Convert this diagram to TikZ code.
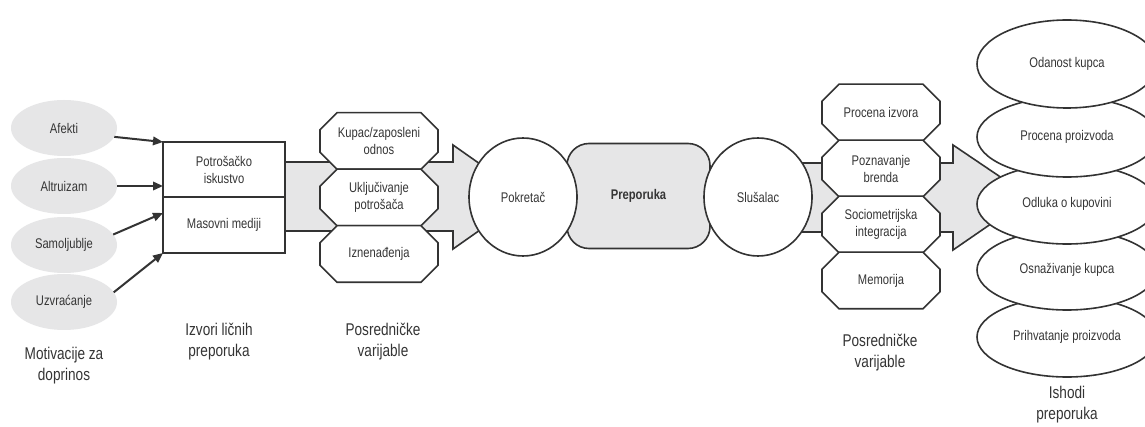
\documentclass[tikz,border=0pt]{standalone}
\usepackage{fontspec}
\setmainfont[FakeStretch=0.8]{Liberation Sans}
\usetikzlibrary{arrows.meta,calc,shapes.geometric}
\definecolor{ink}{HTML}{333333}
\definecolor{txt}{HTML}{353535}
\definecolor{shade}{HTML}{E6E6E7}

% octagonal label box: name, centre x, centre y, text
\newcommand\octnode[4]{%
  \draw[octline] ({#2-42},{#3-28.3}) -- ({#2+42},{#3-28.3}) -- ({#2+59},{#3-11.3})
    -- ({#2+59},{#3+11.3}) -- ({#2+42},{#3+28.3}) -- ({#2-42},{#3+28.3})
    -- ({#2-59},{#3+11.3}) -- ({#2-59},{#3-11.3}) -- cycle;
  \node[octbox] (#1) at (#2,#3) {#4};}

\begin{document}
\begin{tikzpicture}[x=1pt,y=-1pt,
  lbl/.style={font=\fontsize{14}{17}\selectfont, text=txt, align=center},
  colcaption/.style={font=\fontsize{17}{21}\selectfont, text=txt, align=center},
  motive/.style={ellipse, fill=shade, minimum width=106pt, minimum height=56pt,
    lbl, inner sep=0pt, outer sep=0pt},
  cell/.style={rectangle, draw=ink, line width=1.6pt, fill=white,
    minimum width=122pt, lbl, inner sep=0pt, outer sep=0pt},
  octline/.style={draw=ink, line width=1.6pt, fill=white, line join=miter},
  octbox/.style={rectangle, minimum width=118pt, minimum height=56pt,
    lbl, inner sep=0pt, outer sep=0pt},
  actor/.style={ellipse, draw=ink, line width=1.6pt, fill=white,
    minimum width=108pt, minimum height=118pt, lbl, inner sep=0pt, outer sep=0pt},
  outcome/.style={ellipse, draw=ink, line width=1.6pt, fill=white,
    minimum width=180pt, minimum height=80pt, lbl, inner sep=0pt, outer sep=0pt},
  bigarrow/.style={draw=ink, line width=1.6pt, fill=shade, line join=miter},
  thin/.style={draw=ink, line width=2pt, -{Triangle[length=10pt,width=8.5pt]}},
]
\useasboundingbox (0,0) rectangle (1145,427);
\fill[white] (0,0) rectangle (1145,427);

% broad shaded arrows
\coordinate (a1s) at (285,162); \coordinate (a1b) at (285,231);
\coordinate (a1tip) at (527,197);
\draw[bigarrow] (a1s) -- (453,162) -- (453,145) -- (a1tip) -- (453,249)
  -- (453,231) -- (a1b) -- cycle;
\coordinate (a2s) at (790,163); \coordinate (a2b) at (790,232);
\coordinate (a2tip) at (1030,197);
\draw[bigarrow] (a2s) -- (953,163) -- (953,145) -- (a2tip) -- (953,250)
  -- (953,232) -- (a2b) -- cycle;

% sources of personal recommendations
\node[cell, minimum height=55pt] (src1) at (224,169.5) {Potrošačko\\iskustvo};
\node[cell, minimum height=56pt] (src2) at (224,225) {Masovni mediji};

% mediating variables, left group
\octnode{m1}{379}{141}{Kupac/zaposleni\\odnos}
\octnode{m2}{379}{197.5}{Uključivanje\\potrošača}
\octnode{m3}{379}{254}{Iznenađenja}

% recommendation core
\node[rectangle, rounded corners=22pt, draw=ink, line width=1.6pt, fill=shade,
  minimum width=143pt, minimum height=105pt, lbl, font=\fontsize{14}{17}\selectfont\bfseries]
  (rec) at (638.5,196) {Preporuka};
\node[actor] (giver) at (523,197) {Pokretač};
\node[actor] (listener) at (758,197) {Slušalac};

% mediating variables, right group
\octnode{r1}{881}{112.5}{Procena izvora}
\octnode{r2}{881}{168.5}{Poznavanje\\brenda}
\octnode{r3}{881}{224.5}{Sociometrijska\\integracija}
\octnode{r4}{881}{280.5}{Memorija}

% outcomes, stacked from the bottom up
\node[outcome] (o5) at (1067,337) {Prihvatanje proizvoda};
\node[outcome] (o4) at (1067,270) {Osnaživanje kupca};
\node[outcome] (o3) at (1067,204) {Odluka o kupovini};
\node[outcome] (o2) at (1067,137) {Procena proizvoda};
\node[outcome, minimum height=88pt] (o1) at (1067,64) {Odanost kupca};

% motivations
\node[motive] (mot1) at (64,128) {Afekti};
\node[motive] (mot2) at (64,186) {Altruizam};
\node[motive] (mot3) at (64,245) {Samoljublje};
\node[motive] (mot4) at (64,302) {Uzvraćanje};

\draw[thin] (mot1.-10) -- (src1.north west);
\draw[thin] (mot2.east) -- (mot2.east -| src1.west);
\draw[thin] (mot3.12) -- ([yshift=-16pt]src2.north west);
\draw[thin] (mot4.11) -- (src2.south west);

% column captions
\node[colcaption] (c1) at (64,366) {Motivacije za\\doprinos};
\node[colcaption] (c2) at (219,342) {Izvori ličnih\\preporuka};
\node[colcaption] (c3) at (383,342) {Posredničke\\varijable};
\node[colcaption] (c4) at (880,353) {Posredničke\\varijable};
\node[colcaption] (c5) at (1067,405) {Ishodi\\preporuka};
\end{tikzpicture}
\end{document}
